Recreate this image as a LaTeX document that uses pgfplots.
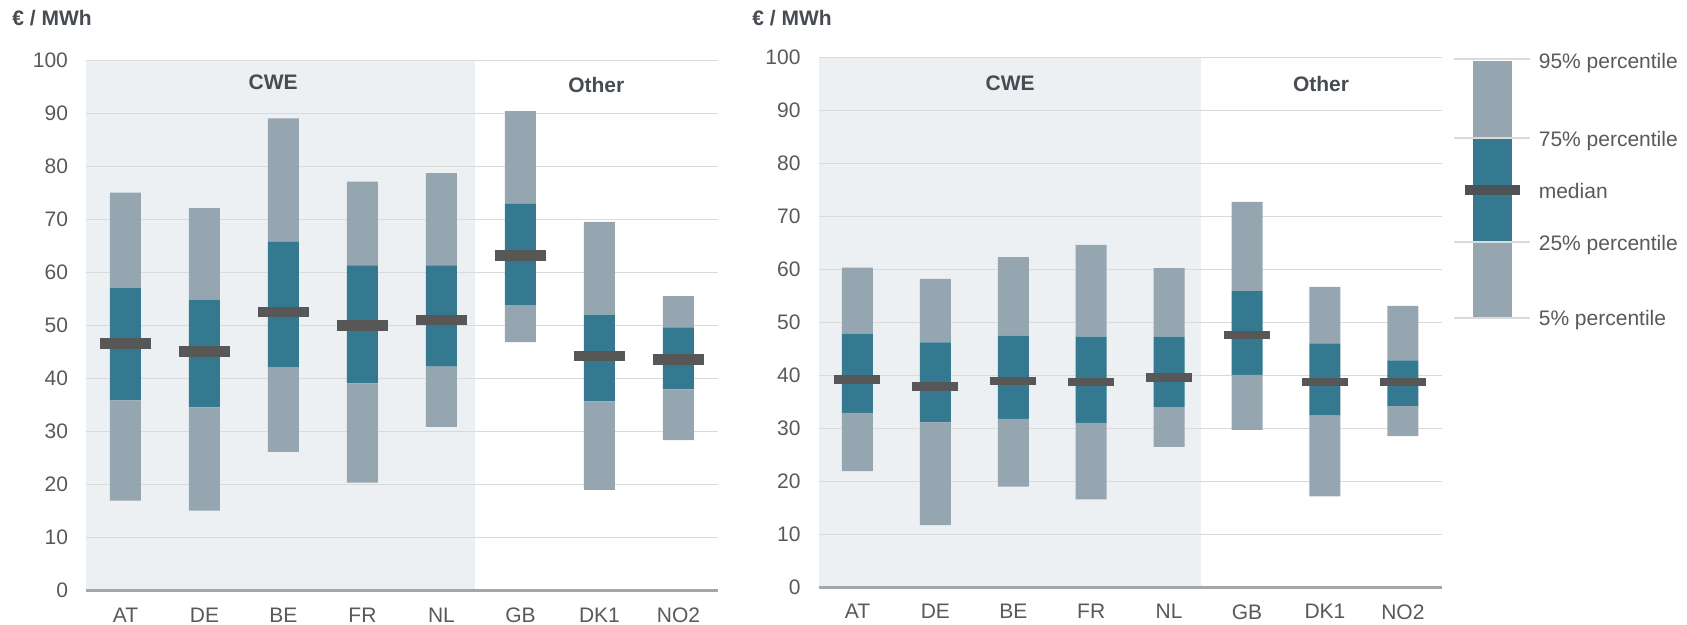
\documentclass[border=0pt]{standalone}
\usepackage{fontspec}
\setmainfont{Liberation Sans}
\usepackage{pgfplots}
\pgfplotsset{compat=1.18}
\usepackage{pgfplotstable}

\definecolor{bargray}{HTML}{96A6B0}
\definecolor{barteal}{HTML}{347990}
\definecolor{medgray}{HTML}{575757}
\definecolor{legmed}{HTML}{4D5257}
\definecolor{cweshade}{HTML}{ECF0F3}
\definecolor{gridgray}{HTML}{DADADA}
\definecolor{axisgray}{HTML}{A6A6A6}
\definecolor{ticktext}{HTML}{595959}
\definecolor{headtext}{HTML}{474C52}

% percentiles per bidding zone (x: 0=AT ... 7=NO2)
\pgfplotstableread{
x p5 p25 med p75 p95
0 17.0 35.9 46.6 57.1 75.1
1 15.1 34.6 45.1 54.9 72.2
2 26.2 42.2 52.6 65.8 89.1
3 20.4 39.1 50.0 61.4 77.2
4 30.9 42.3 51.1 61.4 78.8
5 46.9 53.9 63.2 73.0 90.5
6 19.0 35.7 44.3 52.1 69.6
7 28.4 38.0 43.6 49.7 55.6
}\leftdata

\pgfplotstableread{
x p5 p25 med p75 p95
0 21.9 32.9 39.2 47.85 60.3
1 11.75 31.1 37.9 46.2 58.2
2 19.0 31.8 38.9 47.5 62.3
3 16.6 31.0 38.7 47.3 64.6
4 26.5 34.0 39.6 47.3 60.2
5 29.7 40.1 47.6 55.9 72.7
6 17.15 32.4 38.8 46.0 56.7
7 28.5 34.2 38.8 42.8 53.1
}\rightdata

\newcommand{\lblfont}{\fontsize{10.5}{12}\selectfont}

\pgfplotsset{
  panelgeom/.style={
    scale only axis, height=265pt,
    xmin=-0.5, xmax=7.5, ymin=0, ymax=100,
  },
  boxpanel/.style={
    panelgeom,
    ybar stacked, bar width=15.5pt,
    axis x line=bottom, axis y line=left,
    x axis line style={line width=1.6pt, draw=axisgray, -},
    y axis line style={draw=none},
    major tick length=0pt,
    xtick={0,...,7}, xticklabels={AT,DE,BE,FR,NL,GB,DK1,NO2},
    ytick={0,10,...,100},
    ymajorgrids, major grid style={line width=0.65pt, draw=gridgray},
    tick label style={font=\lblfont, text=ticktext},
    /pgf/number format/assume math mode=true,
    yticklabel style={xshift=-5.5pt},
    xticklabel style={yshift=-5pt},
  },
}

\begin{document}
\begin{tikzpicture}
\path[use as bounding box] (-43pt,-17.15pt) rectangle (800.5pt,295.35pt);

% CWE shading behind the left panel
\begin{axis}[panelgeom, width=316pt, at={(0pt,0pt)}, anchor=south west, hide axis]
\addplot[draw=none, fill=cweshade] coordinates {(-0.5,0) (4.42,0) (4.42,100) (-0.5,100)} -- cycle;
\end{axis}

% left panel
\begin{axis}[boxpanel, width=316pt, at={(0pt,0pt)}, anchor=south west]
\addplot[draw=none, fill=none] table[x=x, y=p5] \leftdata;
\addplot[draw=none, fill=bargray] table[x=x, y expr=\thisrow{p25}-\thisrow{p5}] \leftdata;
\addplot[draw=none, fill=barteal] table[x=x, y expr=\thisrow{p75}-\thisrow{p25}] \leftdata;
\addplot[draw=none, fill=bargray] table[x=x, y expr=\thisrow{p95}-\thisrow{p75}] \leftdata;
\addplot[stack plots=false, sharp plot, only marks, mark=-, mark size=12.75pt,
  mark options={line width=5.35pt, draw=medgray}] table[x=x, y=med] \leftdata;
\node[font=\bfseries\lblfont, text=headtext] at (axis cs:1.87,95.9) {CWE};
\node[font=\bfseries\lblfont, text=headtext] at (axis cs:5.96,95.5) {Other};
\end{axis}

% CWE shading behind the right panel
\begin{axis}[panelgeom, width=311.65pt, at={(366.25pt,1.7pt)}, anchor=south west, hide axis]
\addplot[draw=none, fill=cweshade] coordinates {(-0.5,0) (4.41,0) (4.41,100) (-0.5,100)} -- cycle;
\end{axis}

% right panel
\begin{axis}[boxpanel, width=311.65pt, at={(366.25pt,1.7pt)}, anchor=south west]
\addplot[draw=none, fill=none] table[x=x, y=p5] \rightdata;
\addplot[draw=none, fill=bargray] table[x=x, y expr=\thisrow{p25}-\thisrow{p5}] \rightdata;
\addplot[draw=none, fill=barteal] table[x=x, y expr=\thisrow{p75}-\thisrow{p25}] \rightdata;
\addplot[draw=none, fill=bargray] table[x=x, y expr=\thisrow{p95}-\thisrow{p75}] \rightdata;
\addplot[stack plots=false, sharp plot, only marks, mark=-, mark size=11.5pt,
  mark options={line width=4.15pt, draw=medgray}] table[x=x, y=med] \rightdata;
\node[font=\bfseries\lblfont, text=headtext] at (axis cs:1.96,95.1) {CWE};
\node[font=\bfseries\lblfont, text=headtext] at (axis cs:5.95,95.0) {Other};
\end{axis}

% key, in the right panel's coordinates
\begin{axis}[panelgeom, width=311.65pt, at={(366.25pt,1.7pt)},
  anchor=south west, hide axis, clip=false]
\addplot[draw=none, fill=bargray] coordinates {(7.9,51.0) (8.4,51.0) (8.4,65.15) (7.9,65.15)} -- cycle;
\addplot[draw=none, fill=barteal] coordinates {(7.9,65.15) (8.4,65.15) (8.4,84.7) (7.9,84.7)} -- cycle;
\addplot[draw=none, fill=bargray] coordinates {(7.9,84.7) (8.4,84.7) (8.4,99.3) (7.9,99.3)} -- cycle;
\addplot[gridgray, line width=0.9pt] coordinates {(7.66,99.65) (8.63,99.65)};
\addplot[gridgray, line width=0.9pt] coordinates {(7.66,84.7) (8.63,84.7)};
\addplot[gridgray, line width=0.9pt] coordinates {(7.66,65.15) (8.63,65.15)};
\addplot[gridgray, line width=0.9pt] coordinates {(7.66,50.8) (8.63,50.8)};
\addplot[legmed, line width=5pt] coordinates {(7.80,75.0) (8.50,75.0)};
\node[anchor=base west, inner sep=0pt, font=\lblfont, text=ticktext] at (axis cs:8.74,97.9) {95\% percentile};
\node[anchor=base west, inner sep=0pt, font=\lblfont, text=ticktext] at (axis cs:8.74,83.15) {75\% percentile};
\node[anchor=base west, inner sep=0pt, font=\lblfont, text=ticktext] at (axis cs:8.74,73.45) {median};
\node[anchor=base west, inner sep=0pt, font=\lblfont, text=ticktext] at (axis cs:8.74,63.6) {25\% percentile};
\node[anchor=base west, inner sep=0pt, font=\lblfont, text=ticktext] at (axis cs:8.74,49.3) {5\% percentile};
\end{axis}

% unit labels
\node[anchor=west, inner sep=0pt, font=\bfseries\lblfont, text=headtext] at (-37pt,286.2pt) {€ / MWh};
\node[anchor=west, inner sep=0pt, font=\bfseries\lblfont, text=headtext] at (333pt,286.35pt) {€ / MWh};
\end{tikzpicture}
\end{document}
